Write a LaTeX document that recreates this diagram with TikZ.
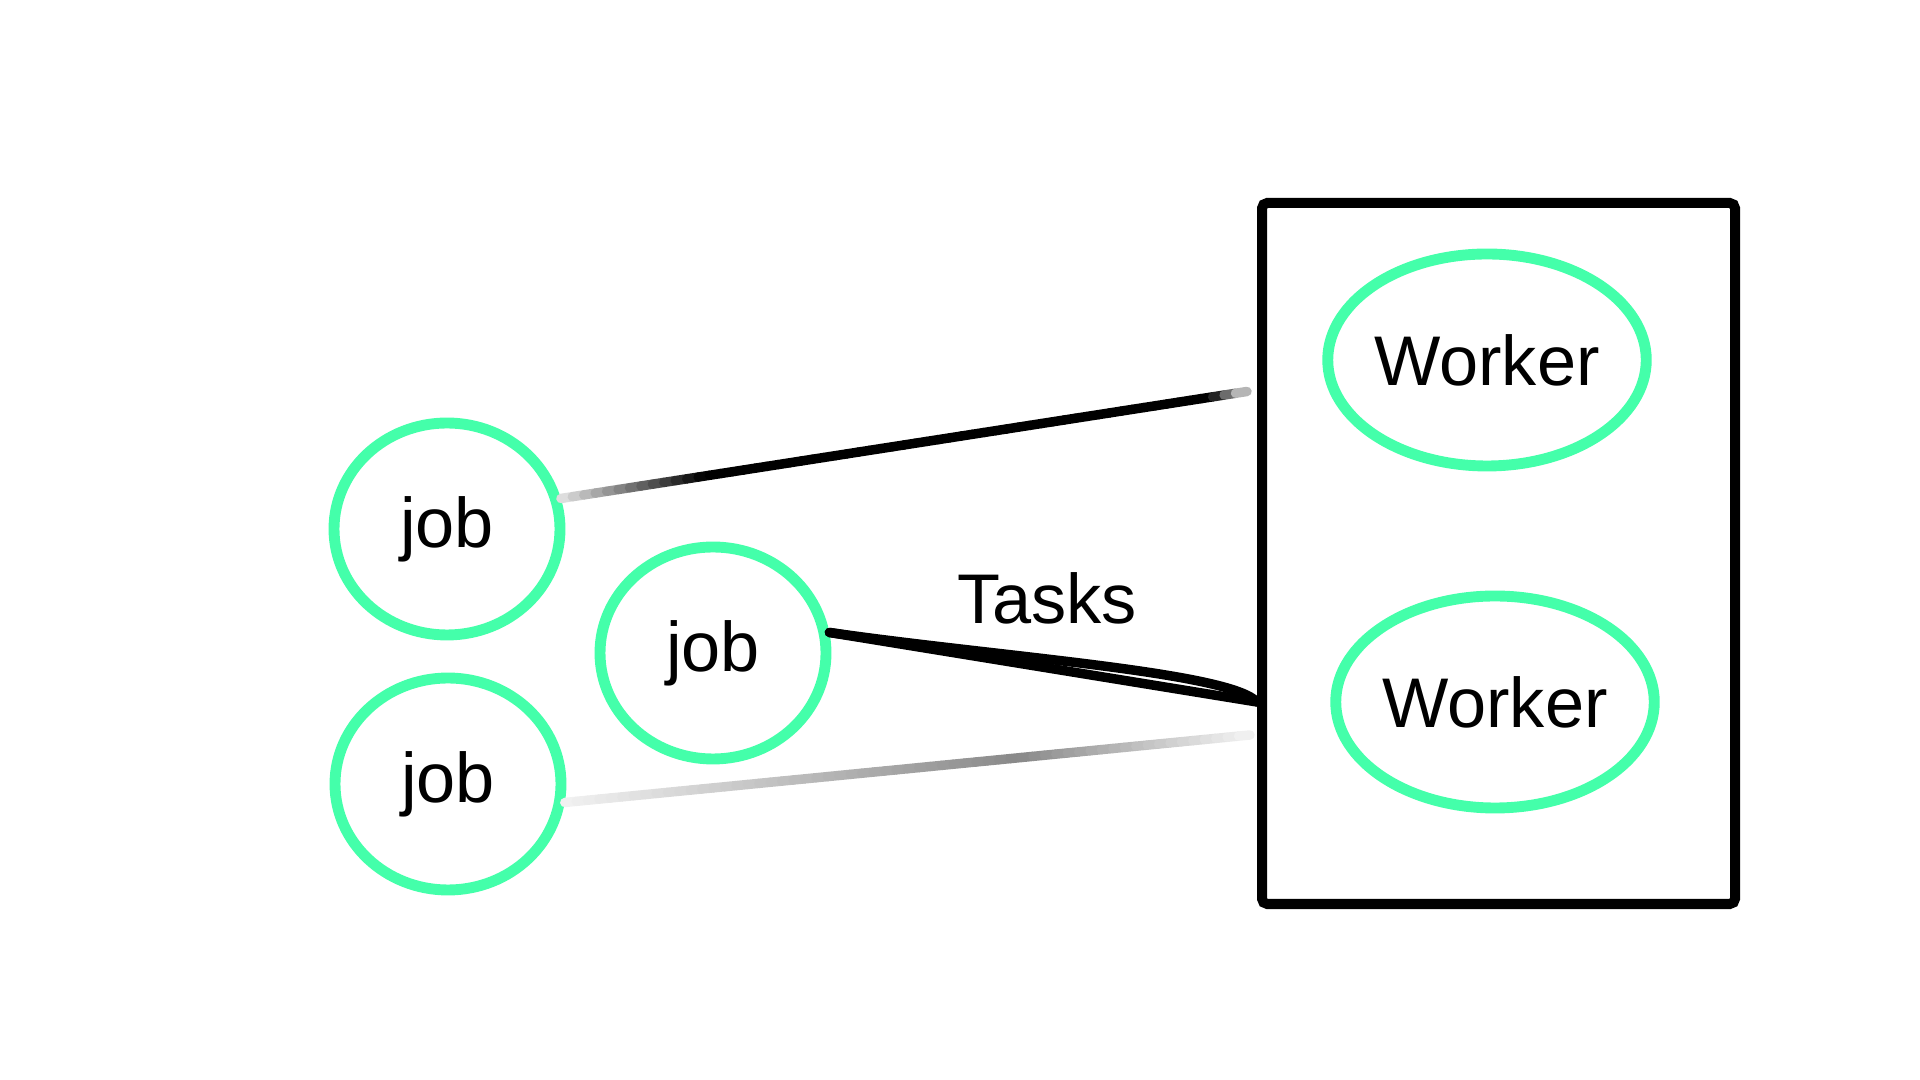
\documentclass[tikz,border=0pt]{standalone}
\usepackage{fontspec}
\setmainfont{Liberation Sans}
\usetikzlibrary{shapes.geometric,calc}
\definecolor{jobgreen}{HTML}{44FFAA}

\begin{document}
\begin{tikzpicture}[
    font=\fontsize{20}{24}\selectfont,
    blob/.style={draw=jobgreen, line width=3.1pt, ellipse, inner sep=0pt,
      minimum width=2.26cm, minimum height=2.12cm},
    workerblob/.style={blob, minimum width=3.18cm},
    wire/.style={line width=2.7pt, line cap=round}
  ]
    \useasboundingbox (0,0) rectangle (19.2,10.8);
    \node[draw, line width=2.85pt, rounded corners=1.5pt, minimum width=4.73cm,
      minimum height=7.01cm] (pool) at (14.985,5.265) {};
    \node[workerblob] (worker1) at (14.87,7.20) {Worker};
    \node[workerblob] (worker2) at (14.95,3.78) {Worker};
    \node[blob] (job1) at (4.47,5.51) {job};
    \node[blob] (job2) at (7.13,4.27) {job};
    \node[blob] (job3) at (4.48,2.96) {job};
    \coordinate (pin1) at ([xshift=-0.1cm,yshift=1.62cm]pool.west);
    \coordinate (pin2) at (pool.west |- worker2);
    \coordinate (pin3) at ([xshift=-0.07cm,yshift=-1.815cm]pool.west);

    % faded wires
    \foreach \i in {0,...,59} {
      \pgfmathsetmacro\ta{\i/60}
      \pgfmathsetmacro\tb{(\i+1)/60}
      \pgfmathsetmacro\ka{min(100,10+420*(\ta+\tb)/2,15+1700*(1-(\ta+\tb)/2))}
      \pgfmathsetmacro\kc{min(5+62*(\ta+\tb)/2,5+125*(1-(\ta+\tb)/2))}
      \draw[wire, black!\ka!white] ($(job1.15)!\ta!(pin1)$) -- ($(job1.15)!\tb!(pin1)$);
      \draw[wire, black!\kc!white] ($(job3.-9)!\ta!(pin3)$) -- ($(job3.-9)!\tb!(pin3)$);
    }
    \draw[wire] (job2.10) -- (pin2);
    \draw[wire] (job2.10) .. controls (10.0,4.23) and (12.3,4.08) .. (pin2);
    \node (tasks) at (10.47,4.82) {Tasks};
\end{tikzpicture}
\end{document}
